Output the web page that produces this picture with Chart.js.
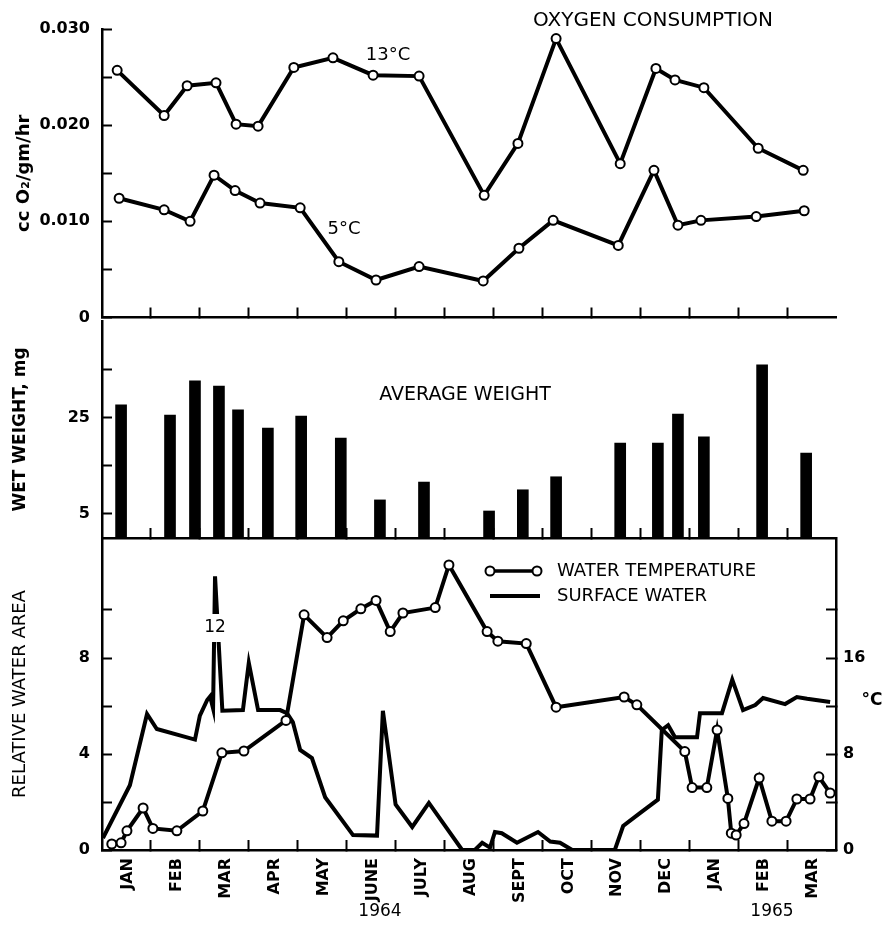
<!DOCTYPE html>
<html lang="pt-BR">
<head>
<meta charset="utf-8">
<title>Oxygen consumption</title>
<script src="https://cdn.jsdelivr.net/npm/chart.js@4.4.1/dist/chart.umd.min.js"></script>
<style>
    body { margin: 0; background: #fff; }
    #painel { position: relative; width: 883px; height: 944px; overflow: hidden; }
    #painel canvas { position: absolute; left: 0; }
</style>
</head>
<body>
<div id="painel">
    <canvas id="graficoOxigenio" width="883" height="324" style="top:0px"></canvas>
    <canvas id="graficoPeso" width="883" height="241" style="top:300px"></canvas>
    <canvas id="graficoAgua" width="883" height="424" style="top:520px"></canvas>
</div>
<script>
// eixo x em meses contados desde 1 jan 1964
const meses = ['JAN', 'FEB', 'MAR', 'APR', 'MAY', 'JUNE', 'JULY', 'AUG', 'SEPT', 'OCT', 'NOV', 'DEC', 'JAN', 'FEB', 'MAR'];
const anos = ['1964', '1965'];

const mesesO2_13 = [0.31, 1.27, 1.74, 2.33, 2.74, 3.19, 3.92, 4.72, 5.54, 6.48, 7.81, 8.50, 9.28, 10.59, 11.32, 11.71, 12.30, 13.41, 14.33];
const o2_13 = [0.0257, 0.0210, 0.0241, 0.0244, 0.0201, 0.0199, 0.0260, 0.0270, 0.0252, 0.0251, 0.0127, 0.0181, 0.0290, 0.0160, 0.0259, 0.0247, 0.0239, 0.0176, 0.0153];
const mesesO2_5 = [0.35, 1.27, 1.80, 2.29, 2.72, 3.23, 4.05, 4.84, 5.60, 6.48, 7.79, 8.52, 9.22, 10.55, 11.28, 11.77, 12.24, 13.37, 14.35];
const o2_5 = [0.0124, 0.0112, 0.0100, 0.0148, 0.0132, 0.0119, 0.0114, 0.0058, 0.0039, 0.0053, 0.0038, 0.0072, 0.0101, 0.0075, 0.0153, 0.0096, 0.0101, 0.0105, 0.0111];

const mesesPeso = [0.39, 1.39, 1.90, 2.39, 2.78, 3.39, 4.07, 4.88, 5.68, 6.58, 7.91, 8.60, 9.28, 10.59, 11.36, 11.77, 12.30, 13.49, 14.39];
const peso = [27.6, 25.5, 32.6, 31.5, 26.6, 22.8, 25.3, 20.7, 7.9, 11.6, 5.6, 10.0, 12.7, 19.7, 19.7, 25.7, 21.0, 35.9, 17.6];

const mesesTemp = [0.20, 0.39, 0.51, 0.84, 1.04, 1.53, 2.06, 2.45, 2.90, 3.76, 4.13, 4.60, 4.93, 5.29, 5.60, 5.89, 6.15, 6.81, 7.09, 7.87,
    8.09, 8.67, 9.28, 10.67, 10.93, 11.91, 12.06, 12.36, 12.57, 12.79, 12.86, 12.96, 13.12, 13.43, 13.69, 13.98, 14.20, 14.47, 14.65, 14.88];
const temperatura = [0.5, 0.6, 1.6, 3.5, 1.8, 1.6, 3.25, 8.1, 8.25, 10.8, 19.6, 17.7, 19.1, 20.1, 20.8, 18.2, 19.75, 20.2, 23.75, 18.2,
    17.4, 17.2, 11.9, 12.75, 12.1, 8.2, 5.2, 5.2, 10.0, 4.3, 1.4, 1.25, 2.2, 6.0, 2.4, 2.4, 4.25, 4.25, 6.1, 4.75];

const mesesAgua = [0.02, 0.57, 0.92, 1.12, 1.90, 2.00, 2.15, 2.21, 2.27, 2.31, 2.46, 2.88, 3.00, 3.19, 3.64, 3.78, 3.90, 4.05, 4.29, 4.56,
    5.13, 5.62, 5.74, 6.00, 6.34, 6.68, 7.36, 7.62, 7.77, 7.93, 8.03, 8.17, 8.48, 8.91, 9.16, 9.36, 9.61, 10.48, 10.65, 11.00,
    11.36, 11.44, 11.57, 11.71, 12.16, 12.22, 12.67, 12.88, 13.10, 13.35, 13.51, 13.96, 14.20, 14.41, 14.88];
const areaAgua = [0.5, 2.7, 5.67, 5.04, 4.6, 5.6, 6.25, 6.4, 5.9, 11.4, 5.8, 5.83, 7.8, 5.83, 5.83, 5.7, 5.33, 4.17, 3.83, 2.2,
    0.62, 0.6, 5.8, 1.9, 0.96, 1.96, 0, 0, 0.3, 0.1, 0.75, 0.7, 0.3, 0.75, 0.35, 0.3, 0, 0, 1.0, 1.55,
    2.1, 5.0, 5.2, 4.7, 4.7, 5.7, 5.7, 7.1, 5.83, 6.04, 6.33, 6.08, 6.37, 6.3, 6.17];

const ticksO2 = [0, 0.005, 0.010, 0.015, 0.020, 0.025, 0.030];
const rotulosO2 = ['0', '', '0.010', '', '0.020', '', '0.030'];
const ticksPeso = [5, 15, 25, 35];
const rotulosPeso = ['5', '', '25', ''];
const ticksArea = [0, 2, 4, 6, 8, 10];
const rotulosArea = ['0', '', '4', '', '8', ''];
const ticksTemp = [0, 4, 8, 12, 16, 20];
const rotulosTemp = ['0', '', '8', '', '16', ''];

Chart.defaults.font.family = '"DejaVu Sans", sans-serif';
Chart.defaults.color = '#000';

const fonteTicks = { family: '"DejaVu Sans"', size: 16, weight: 'bold' };

function pontos(xs, ys) {
    return xs.map((x, i) => ({ x: x, y: ys[i] }));
}

function eixoMeses(comRotulos, altura) {
    return {
        type: 'linear',
        min: 0,
        max: 15,
        offset: false,
        afterBuildTicks: s => { s.ticks = meses.concat(['']).map((m, i) => ({ value: i })); },
        afterFit: s => {
            s.height = altura;
            s.paddingLeft = 0; s.paddingRight = 0; s.paddingTop = 0; s.paddingBottom = 0;
        },
        grid: {
            offset: false,
            drawOnChartArea: false,
            tickLength: -10,
            tickWidth: 2,
            tickColor: c => (c.index === 0 || c.index === 15) ? 'rgba(0,0,0,0)' : '#000'
        },
        border: { color: '#000', width: 2.5 },
        ticks: {
            display: comRotulos,
            autoSkip: false,
            minRotation: 90,
            maxRotation: 90,
            padding: 18,
            labelOffset: 26,
            font: fonteTicks,
            color: '#000',
            callback: (v, i) => meses[i] || ''
        }
    };
}

function eixoY(posicao, min, max, valores, rotulos, largura, titulo) {
    const eixo = {
        type: 'linear',
        position: posicao,
        min: min,
        max: max,
        afterBuildTicks: s => { s.ticks = valores.map(v => ({ value: v })); },
        afterFit: s => {
            s.width = largura;
            s.paddingLeft = 0; s.paddingRight = 0; s.paddingTop = 0; s.paddingBottom = 0;
        },
        grid: { drawOnChartArea: false, tickLength: -10, tickWidth: 2, tickColor: '#000' },
        border: { color: '#000', width: 2.5 },
        ticks: {
            font: fonteTicks,
            color: '#000',
            padding: posicao === 'left' ? 22 : 17,
            callback: (v, i) => rotulos[i]
        }
    };
    if (titulo) eixo.title = titulo;
    return eixo;
}

function linhaComPontos(xs, ys, eixo) {
    return {
        data: pontos(xs, ys),
        yAxisID: eixo,
        borderColor: '#000',
        borderWidth: 4,
        pointRadius: 4.5,
        pointBorderWidth: 2,
        pointBackgroundColor: '#fff',
        pointBorderColor: '#000',
        tension: 0
    };
}

function textos(id, lista) {
    return {
        id: id,
        afterDraw(chart) {
            const ctx = chart.ctx;
            ctx.save();
            ctx.fillStyle = '#000';
            ctx.textBaseline = 'middle';
            lista.forEach(t => {
                ctx.font = t.fonte;
                ctx.textAlign = t.alinhar || 'center';
                if (t.fundo) {
                    ctx.fillStyle = '#fff';
                    ctx.fillRect(t.fundo[0], t.fundo[1], t.fundo[2], t.fundo[3]);
                    ctx.fillStyle = '#000';
                }
                ctx.fillText(t.texto, t.x, t.y);
            });
            ctx.restore();
        }
    };
}

const opcoesBase = {
    responsive: false,
    animation: false,
    devicePixelRatio: 1,
    plugins: { legend: { display: false }, tooltip: { enabled: false } }
};

function renderizarOxigenio() {
    const ctx = document.getElementById('graficoOxigenio').getContext('2d');
    new Chart(ctx, {
        type: 'line',
        data: {
            datasets: [
                linhaComPontos(mesesO2_13, o2_13, 'y'),
                linhaComPontos(mesesO2_5, o2_5, 'y')
            ]
        },
        options: {
            ...opcoesBase,
            layout: { padding: { top: 29, right: 47, left: 0, bottom: 0 } },
            scales: {
                x: eixoMeses(false, 3),
                y: eixoY('left', 0, 0.030, ticksO2, rotulosO2, 102, {
                    display: true, text: 'cc O₂/gm/hr', color: '#000',
                    font: { size: 18, weight: 'bold' }, padding: { top: 14, bottom: 0 }
                })
            }
        },
        plugins: [textos('rotulosOxigenio', [
            { texto: 'OXYGEN CONSUMPTION', x: 653, y: 21, fonte: '20px "DejaVu Sans"' },
            { texto: '13°C', x: 388, y: 55, fonte: '18px "DejaVu Sans"' },
            { texto: '5°C', x: 344, y: 229, fonte: '18px "DejaVu Sans"' }
        ])]
    });
}

function renderizarPeso() {
    const ctx = document.getElementById('graficoPeso').getContext('2d');
    new Chart(ctx, {
        type: 'bar',
        data: {
            datasets: [{
                data: pontos(mesesPeso, peso),
                backgroundColor: '#000',
                barThickness: 11,
                borderWidth: 0
            }]
        },
        options: {
            ...opcoesBase,
            layout: { padding: { top: 21, right: 47, left: 0, bottom: 0 } },
            scales: {
                x: eixoMeses(false, 3),
                y: eixoY('left', 0, 45, ticksPeso, rotulosPeso, 102, {
                    display: true, text: 'WET WEIGHT, mg', color: '#000',
                    font: { size: 17, weight: 'bold' }, padding: { top: 10, bottom: 0 }
                })
            }
        },
        plugins: [textos('rotulosPeso', [
            { texto: 'AVERAGE WEIGHT', x: 465, y: 95, fonte: '19px "DejaVu Sans"' }
        ])]
    });
}

const legendaAgua = {
    id: 'legendaAgua',
    afterDraw(chart) {
        const ctx = chart.ctx;
        ctx.save();
        ctx.strokeStyle = '#000';
        ctx.lineWidth = 3.5;
        ctx.beginPath(); ctx.moveTo(490, 51); ctx.lineTo(537, 51); ctx.stroke();
        [490, 537].forEach(x => {
            ctx.beginPath();
            ctx.arc(x, 51, 4.5, 0, Math.PI * 2);
            ctx.fillStyle = '#fff';
            ctx.fill();
            ctx.lineWidth = 2;
            ctx.stroke();
        });
        ctx.lineWidth = 4;
        ctx.beginPath(); ctx.moveTo(490, 76); ctx.lineTo(540, 76); ctx.stroke();
        ctx.fillStyle = '#000';
        ctx.font = '18px "DejaVu Sans"';
        ctx.textAlign = 'left';
        ctx.textBaseline = 'middle';
        ctx.fillText('WATER TEMPERATURE', 557, 51);
        ctx.fillText('SURFACE WATER', 557, 76);
        ctx.restore();
    }
};

function renderizarAgua() {
    const ctx = document.getElementById('graficoAgua').getContext('2d');
    new Chart(ctx, {
        type: 'line',
        data: {
            datasets: [
                linhaComPontos(mesesTemp, temperatura, 'yTemp'),
                {
                    data: pontos(mesesAgua, areaAgua),
                    yAxisID: 'y',
                    borderColor: '#000',
                    borderWidth: 4,
                    pointRadius: 0,
                    tension: 0
                }
            ]
        },
        options: {
            ...opcoesBase,
            layout: { padding: { top: 18, right: 0, left: 0, bottom: 0 } },
            scales: {
                x: eixoMeses(true, 94),
                y: eixoY('left', 0, 13, ticksArea, rotulosArea, 102, {
                    display: true, text: 'RELATIVE WATER AREA', color: '#000',
                    font: { size: 18 }, padding: { top: 10, bottom: 0 }
                }),
                yTemp: eixoY('right', 0, 26, ticksTemp, rotulosTemp, 47)
            }
        },
        plugins: [legendaAgua, textos('rotulosAgua', [
            { texto: '12', x: 215, y: 108, fonte: '17px "DejaVu Sans"', fundo: [205, 94, 22, 28] },
            { texto: '°C', x: 872, y: 181, fonte: 'bold 17px "DejaVu Sans"' },
            { texto: anos[0], x: 380, y: 392, fonte: '17px "DejaVu Sans"' },
            { texto: anos[1], x: 772, y: 392, fonte: '17px "DejaVu Sans"' }
        ])]
    });
}

renderizarOxigenio();
renderizarPeso();
renderizarAgua();
</script>
</body>
</html>
